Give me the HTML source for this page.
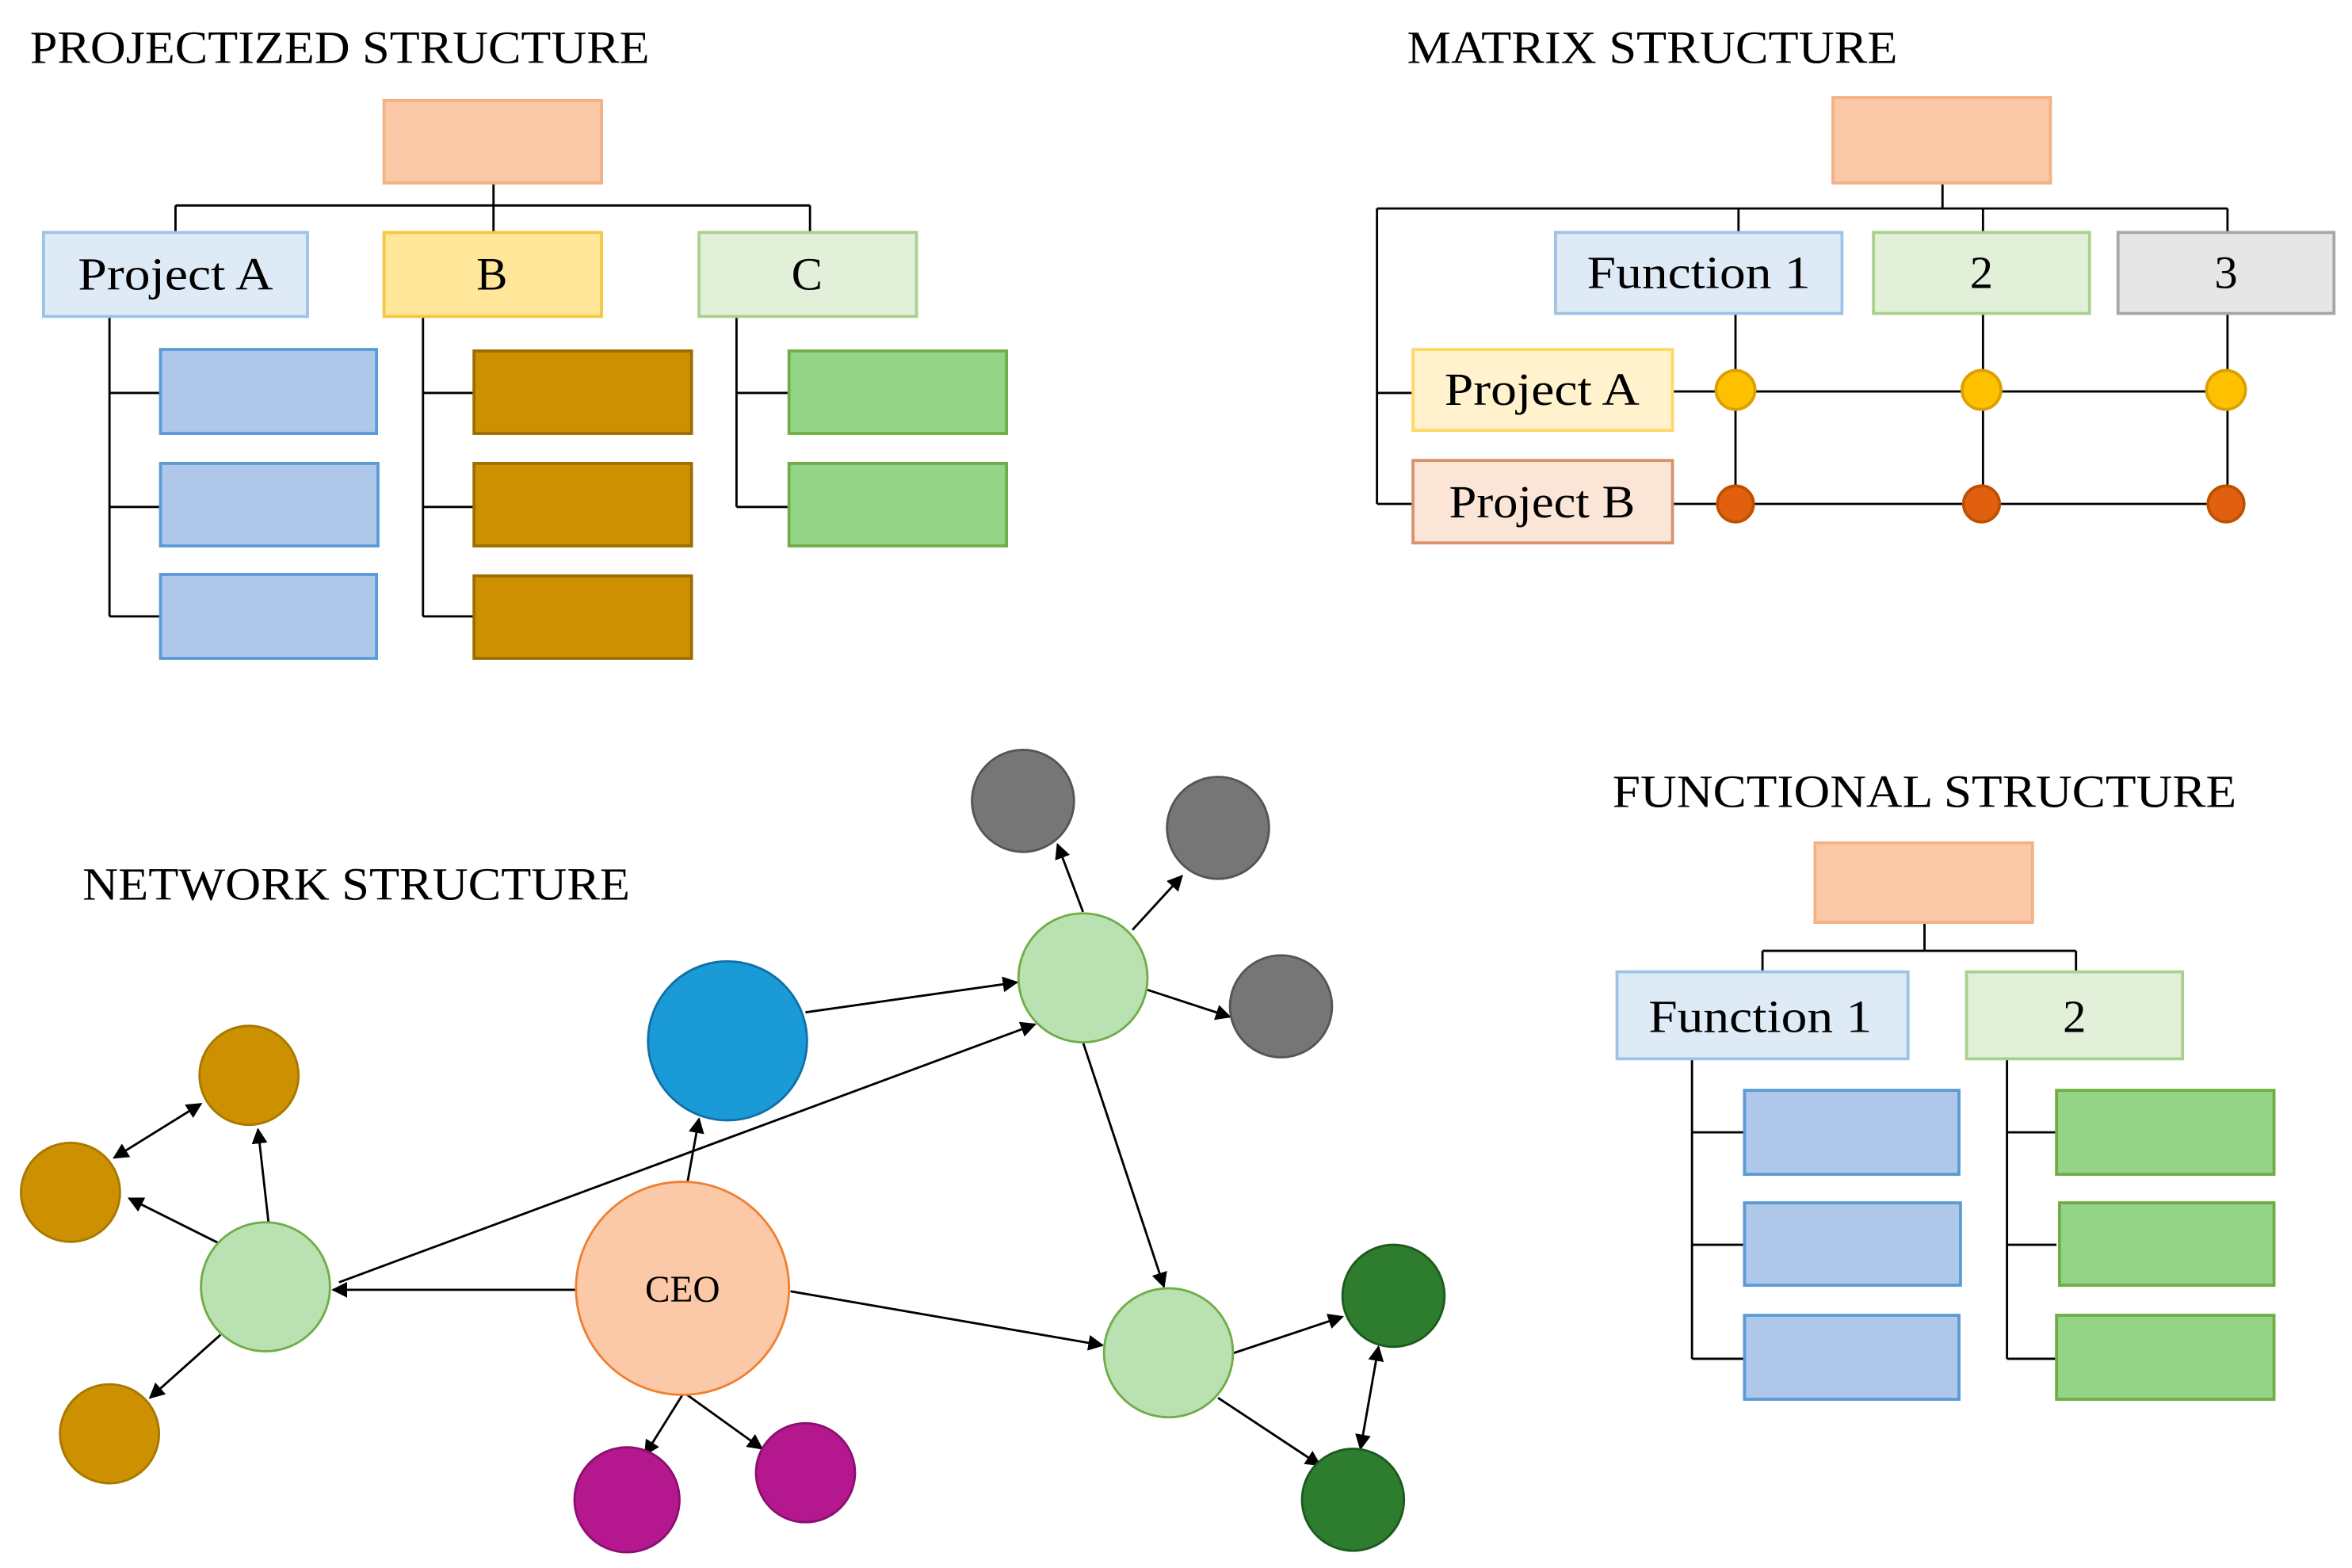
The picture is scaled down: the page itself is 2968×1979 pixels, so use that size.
<!DOCTYPE html>
<html><head><meta charset="utf-8"><style>
html,body{margin:0;padding:0;background:#fff}
svg{display:block}
text{font-family:"Liberation Serif",serif;fill:#000}
</style></head><body>
<svg width="2968" height="1979" viewBox="0 0 1568 1045.5" xmlns="http://www.w3.org/2000/svg">
<defs>
<marker id="a" viewBox="0 0 10 10" refX="9" refY="5" markerWidth="7" markerHeight="7" orient="auto-start-reverse"><path d="M0,0L10,5L0,10z" fill="#000"/></marker>
</defs>
<g stroke="#000" stroke-width="1.5" fill="none">
<path d="M329,122V137M117,137H540M117,137V155M329,137V155M540,137V155"/>
<path d="M73,211V411M73,262H107M73,338H107M73,411H107"/>
<path d="M282,211V411M282,262H316M282,338H316M282,411H316"/>
<path d="M491,211V338M491,262H526M491,338H526"/>
<path d="M1295,122V139M918,139H1485M1159,139V155M1322,139V155M1485,139V155"/>
<path d="M918,139V336M918,262H942M918,336H942"/>
<path d="M1115,261H1485M1115,336H1485M1157,209V336M1322,209V336M1485,209V336"/>
<path d="M1283,615V634M1175,634H1384M1175,634V648M1384,634V648"/>
<path d="M1128,706V906M1128,755H1163M1128,830H1163M1128,906H1163"/>
<path d="M1338,706V906M1338,755H1371M1338,830H1371M1338,906H1371"/>
</g>
<g stroke-width="2">
<rect x="256" y="67" width="145" height="55" fill="#fcc9a8" stroke="#f4b183"/>
<rect x="29" y="155" width="176" height="56" fill="#deebf7" stroke="#9dc3e6"/>
<rect x="256" y="155" width="145" height="56" fill="#ffe699" stroke="#f5c842"/>
<rect x="466" y="155" width="145" height="56" fill="#e2f0d9" stroke="#a9d18e"/>
<g fill="#afc7e8" stroke="#5b9bd5"><rect x="107" y="233" width="144" height="56"/><rect x="107" y="309" width="145" height="55"/><rect x="107" y="383" width="144" height="56"/></g>
<g fill="#cc9000" stroke="#9c6e00"><rect x="316" y="234" width="145" height="55"/><rect x="316" y="309" width="145" height="55"/><rect x="316" y="384" width="145" height="55"/></g>
<g fill="#93d486" stroke="#70ad47"><rect x="526" y="234" width="145" height="55"/><rect x="526" y="309" width="145" height="55"/></g>
<rect x="1222" y="65" width="145" height="57" fill="#fcc9a8" stroke="#f4b183"/>
<rect x="1037" y="155" width="191" height="54" fill="#deebf7" stroke="#9dc3e6"/>
<rect x="1249" y="155" width="144" height="54" fill="#e2f0d9" stroke="#a9d18e"/>
<rect x="1412" y="155" width="144" height="54" fill="#e6e6e6" stroke="#a6a6a6"/>
<rect x="942" y="233" width="173" height="54" fill="#fff2cc" stroke="#ffd966"/>
<rect x="942" y="307" width="173" height="55" fill="#fbe5d6" stroke="#d9926a"/>
<g fill="#ffc000" stroke="#d9a000"><circle cx="1157" cy="260" r="13"/><circle cx="1321" cy="260" r="13"/><circle cx="1484" cy="260" r="13"/></g>
<g fill="#e06010" stroke="#c05000"><circle cx="1157" cy="336" r="12"/><circle cx="1321" cy="336" r="12"/><circle cx="1484" cy="336" r="12"/></g>
<rect x="1210" y="562" width="145" height="53" fill="#fcc9a8" stroke="#f4b183"/>
<rect x="1078" y="648" width="194" height="58" fill="#deebf7" stroke="#9dc3e6"/>
<rect x="1311" y="648" width="144" height="58" fill="#e2f0d9" stroke="#a9d18e"/>
<g fill="#afc7e8" stroke="#5b9bd5"><rect x="1163" y="727" width="143" height="56"/><rect x="1163" y="802" width="144" height="55"/><rect x="1163" y="877" width="143" height="56"/></g>
<g fill="#93d486" stroke="#70ad47"><rect x="1371" y="727" width="145" height="56"/><rect x="1373" y="802" width="143" height="55"/><rect x="1371" y="877" width="145" height="56"/></g>
</g>
<g stroke="#000" stroke-width="1.5" fill="none" marker-end="url(#a)">
<path d="M384,860H222"/>
<path d="M458,790L466,746"/>
<path d="M148,830L86,799"/>
<path d="M179,815L172,753"/>
<path d="M147,890L100,932"/>
<path d="M76,772L134,736" marker-start="url(#a)"/>
<path d="M226,855L690,683"/>
<path d="M537,675L678,655"/>
<path d="M722,608L705,563"/>
<path d="M755,620L788,584"/>
<path d="M765,660L820,678"/>
<path d="M722,695L776,858"/>
<path d="M527,861L735,897"/>
<path d="M820,903L895,878"/>
<path d="M812,932L880,977"/>
<path d="M919,898L907,966" marker-start="url(#a)"/>
<path d="M455,930L430,970"/>
<path d="M458,930L508,966"/>
</g>
<g stroke-width="1.5">
<g fill="#cc9000" stroke="#a87800"><circle cx="166" cy="717" r="33"/><circle cx="47" cy="795" r="33"/><circle cx="73" cy="956" r="33"/></g>
<g fill="#b9e1b2" stroke="#70ad47"><circle cx="177" cy="858" r="43"/><circle cx="722" cy="652" r="43"/><circle cx="779" cy="902" r="43"/></g>
<circle cx="455" cy="859" r="71" fill="#fcc9a8" stroke="#f08030"/>
<circle cx="485" cy="694" r="53" fill="#1a9ad6" stroke="#1070a8"/>
<g fill="#767676" stroke="#555"><circle cx="682" cy="534" r="34"/><circle cx="812" cy="552" r="34"/><circle cx="854" cy="671" r="34"/></g>
<g fill="#2e7d2e" stroke="#1d5a1d"><circle cx="929" cy="864" r="34"/><circle cx="902" cy="1000" r="34"/></g>
<g fill="#b5178f" stroke="#8a1070"><circle cx="418" cy="1000" r="35"/><circle cx="537" cy="982" r="33"/></g>
</g>
<g font-size="31" lengthAdjust="spacingAndGlyphs">
<text x="20" y="42" textLength="413" lengthAdjust="spacingAndGlyphs">PROJECTIZED STRUCTURE</text>
<text x="938" y="42" textLength="327" lengthAdjust="spacingAndGlyphs">MATRIX STRUCTURE</text>
<text x="1075" y="538" textLength="416" lengthAdjust="spacingAndGlyphs">FUNCTIONAL STRUCTURE</text>
<text x="55" y="600" textLength="365" lengthAdjust="spacingAndGlyphs">NETWORK STRUCTURE</text>
</g>
<g font-size="31">
<text x="52" y="193" textLength="130" lengthAdjust="spacingAndGlyphs">Project A</text>
<text x="328" y="193" text-anchor="middle">B</text>
<text x="538" y="193" text-anchor="middle">C</text>
<text x="1058" y="192" textLength="149" lengthAdjust="spacingAndGlyphs">Function 1</text>
<text x="1321" y="192" text-anchor="middle">2</text>
<text x="1484" y="192" text-anchor="middle">3</text>
<text x="963" y="270" textLength="130" lengthAdjust="spacingAndGlyphs">Project A</text>
<text x="966" y="345" textLength="124" lengthAdjust="spacingAndGlyphs">Project B</text>
<text x="1099" y="688" textLength="149" lengthAdjust="spacingAndGlyphs">Function 1</text>
<text x="1383" y="688" text-anchor="middle">2</text>
<text x="455" y="868" font-size="25" text-anchor="middle">CEO</text>
</g>
</svg>
</body></html>
